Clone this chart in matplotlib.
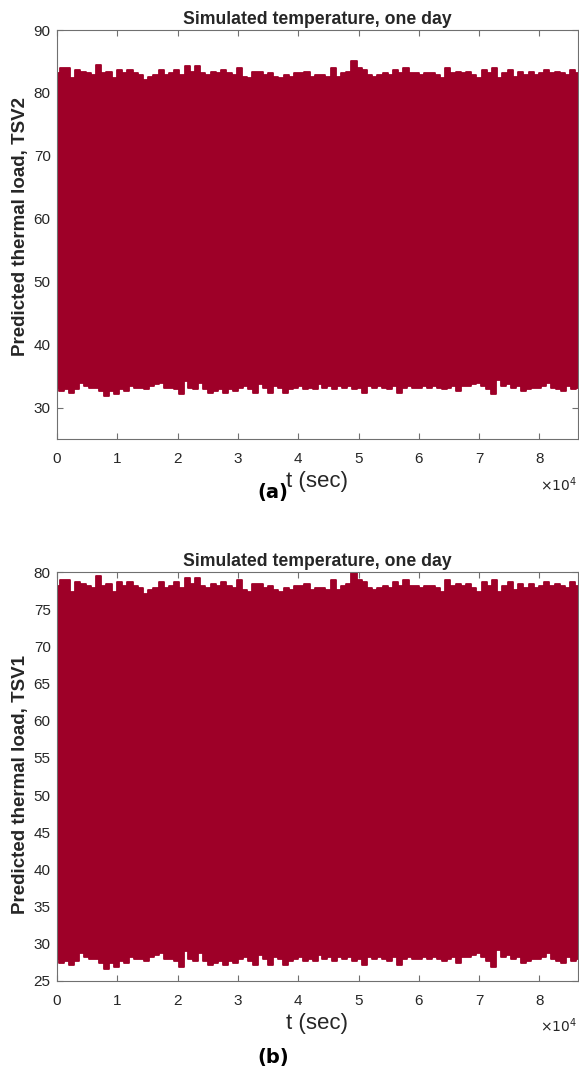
import numpy as np
import matplotlib
matplotlib.use("Agg")
import matplotlib.pyplot as plt

# ---- data: envelope of the dense oscillating signal ----
T_END = 86400  # one day in seconds

tsv2_upper = [83.1, 83.9, 83.9, 82.3, 83.7, 83.4, 83.1, 82.9, 84.4, 83.1, 83.4, 82.3, 83.7,
              83.1, 83.7, 83.1, 82.9, 82.1, 82.6, 82.9, 83.7, 82.9, 83.1, 83.7, 82.9, 84.2,
              83.4, 84.2, 83.1, 82.9, 83.4, 83.1, 83.7, 83.1, 82.9, 83.9, 82.6, 82.3, 83.4,
              83.4, 82.9, 83.1, 82.6, 82.3, 82.9, 82.6, 83.1, 83.1, 83.4, 82.6, 82.9,
              82.9, 82.6, 83.9, 82.6, 83.1, 83.4, 85.0, 83.9, 83.7, 82.9, 82.6, 82.9, 83.1,
              82.9, 83.7, 83.1, 83.9, 83.1, 83.1, 82.9, 83.1, 83.1, 82.9, 82.3, 83.9, 83.1,
              83.4, 83.1, 83.4, 82.9, 82.3, 83.7, 83.1, 83.9, 82.3, 83.1, 83.7, 82.6, 83.4,
              82.9, 83.4, 82.9, 83.1, 83.7, 83.1, 83.4, 83.1, 82.9, 83.7, 83.1]

tsv2_lower = [33.1, 32.6, 32.9, 32.3, 32.9, 33.9, 33.4, 33.1, 33.1, 32.6, 31.8, 32.6, 32.1,
              32.9, 32.6, 33.4, 33.1, 33.1, 32.9, 33.4, 33.7, 33.9, 33.1, 33.1, 32.9, 32.1,
              34.2, 33.1, 32.9, 33.9, 32.9, 32.3, 32.6, 32.9, 32.3, 32.9, 32.6, 33.1, 33.4,
              32.9, 32.3, 33.7, 33.1, 32.3, 33.4, 33.1, 32.3, 32.9, 33.1, 33.4, 32.9, 33.1,
              32.9,
              33.7, 33.1, 33.4, 32.9, 33.4, 33.1, 33.4, 32.9, 33.1, 32.3, 33.4, 33.1, 33.4,
              33.1, 32.9, 33.4, 32.3, 33.1, 33.4, 33.1, 33.1, 33.4, 33.1, 33.4, 33.1, 32.9,
              33.1, 33.4, 32.6, 33.4, 33.4, 33.7, 33.9, 33.4, 32.9, 32.1, 34.4, 33.4, 33.7,
              33.1, 33.4, 32.6, 32.9, 33.1, 33.1, 33.4, 33.9, 33.1, 32.9, 32.6, 33.4, 32.9,
              33.1]

tsv1_upper = [78.1, 78.9, 78.9, 77.3, 78.7, 78.4, 78.1, 77.9, 79.4, 78.1, 78.4, 77.3, 78.7,
              78.1, 78.7, 78.1, 77.9, 77.1, 77.6, 77.9, 78.7, 77.9, 78.1, 78.7, 77.9, 79.2,
              78.4, 79.2, 78.1, 77.9, 78.4, 78.1, 78.7, 78.1, 77.9, 78.9, 77.6, 77.3, 78.4,
              78.4, 77.9, 78.1, 77.6, 77.3, 77.9, 77.6, 78.1, 78.1, 78.4, 77.6, 77.9,
              77.9, 77.6, 78.9, 77.6, 78.1, 78.4, 80.0, 78.9, 78.7, 77.9, 77.6, 77.9, 78.1,
              77.9, 78.7, 78.1, 78.9, 78.1, 78.1, 77.9, 78.1, 78.1, 77.9, 77.3, 78.9, 78.1,
              78.4, 78.1, 78.4, 77.9, 77.3, 78.7, 78.1, 78.9, 77.3, 78.1, 78.7, 77.6, 78.4,
              77.9, 78.4, 77.9, 78.1, 78.7, 78.1, 78.4, 78.1, 77.9, 78.7, 78.1]

tsv1_lower = [27.9, 27.4, 27.7, 27.1, 27.7, 28.7, 28.2, 27.9, 27.9, 27.4, 26.6, 27.4, 26.9,
              27.7, 27.4, 28.2, 27.9, 27.9, 27.7, 28.2, 28.5, 28.7, 27.9, 27.9, 27.7, 26.9,
              29.0, 27.9, 27.7, 28.7, 27.7, 27.1, 27.4, 27.7, 27.1, 27.7, 27.4, 27.9, 28.2,
              27.7, 27.1, 28.5, 27.9, 27.1, 28.2, 27.9, 27.1, 27.7, 27.9, 28.2, 27.7, 27.9,
              27.7,
              28.5, 27.9, 28.2, 27.7, 28.2, 27.9, 28.2, 27.7, 27.9, 27.1, 28.2, 27.9, 28.2,
              27.9, 27.7, 28.2, 27.1, 27.9, 28.2, 27.9, 27.9, 28.2, 27.9, 28.2, 27.9, 27.7,
              27.9, 28.2, 27.4, 28.2, 28.2, 28.5, 28.7, 28.2, 27.7, 26.9, 29.2, 28.2, 28.5,
              27.9, 28.2, 27.4, 27.7, 27.9, 27.9, 28.2, 28.7, 27.9, 27.7, 27.4, 28.2, 27.7,
              27.9]

x_ticks = [0, 10000, 20000, 30000, 40000, 50000, 60000, 70000, 80000]
x_ticklabels = ["0", "1", "2", "3", "4", "5", "6", "7", "8"]
yticks_a = [30, 40, 50, 60, 70, 80, 90]
yticks_b = [25, 30, 35, 40, 45, 50, 55, 60, 65, 70, 75, 80]

panels = [
    dict(upper=tsv2_upper, lower=tsv2_lower, ylim=(25, 90), yticks=yticks_a,
         ylabel="Predicted thermal load, TSV2", tag="(a)"),
    dict(upper=tsv1_upper, lower=tsv1_lower, ylim=(25, 80), yticks=yticks_b,
         ylabel="Predicted thermal load, TSV1", tag="(b)"),
]

COLOR = "#9E0028"
TXT = "#262626"
AXC = "#707070"

plt.rcParams["font.family"] = ["Liberation Sans", "DejaVu Sans"]

W, H = 579, 1074
fig = plt.figure(figsize=(W / 100, H / 100), dpi=100)

ax_pix = [(57, 30, 578, 439), (57, 572, 578, 981)]
tag_y = [492, 1058]
offset_y = [485, 1026]
ylab_y = [0.52, 0.48]

for p, (x0, y0, x1, y1), ty, oy, ly in zip(panels, ax_pix, tag_y, offset_y, ylab_y):
    ax = fig.add_axes([x0 / W, 1 - y1 / H, (x1 - x0) / W, (y1 - y0) / H])
    tu = np.linspace(0, T_END, len(p["upper"]))
    tl = np.linspace(0, T_END, len(p["lower"]))
    mid = 0.5 * (p["ylim"][0] + p["ylim"][1])
    ax.fill_between(tu, mid, p["upper"], step="mid", color=COLOR, lw=0, zorder=2)
    ax.fill_between(tl, p["lower"], mid, step="mid", color=COLOR, lw=0, zorder=2)
    ax.step(tu, p["upper"], where="mid", color=COLOR, lw=1.3,
            solid_joinstyle="round", solid_capstyle="round", zorder=2)
    ax.step(tl, p["lower"], where="mid", color=COLOR, lw=1.3,
            solid_joinstyle="round", solid_capstyle="round", zorder=2)
    ax.set_xlim(0, T_END)
    ax.set_ylim(*p["ylim"])
    ax.set_xticks(x_ticks)
    ax.set_xticklabels(x_ticklabels)
    ax.set_yticks(p["yticks"])
    ax.tick_params(direction="in", top=True, right=True, length=4, width=0.8,
                   color=AXC, labelcolor=TXT, labelsize=11)
    ax.tick_params(axis="x", pad=9.5)
    ax.tick_params(axis="y", pad=4.5)
    for s in ax.spines.values():
        s.set_color(AXC)
        s.set_linewidth(0.8)
        s.set_zorder(3)
    ax.set_title("Simulated temperature, one day", fontsize=12.7, fontweight="bold",
                 color=TXT, pad=4)
    ax.set_ylabel(p["ylabel"], fontsize=13.5, fontweight="bold", color=TXT)
    ax.yaxis.set_label_coords(-0.054, ly)
    ax.set_xlabel("t (sec)", fontsize=16, color=TXT)
    ax.xaxis.label.set_va("center")
    ax.xaxis.set_label_coords(0.5, -43 / 409)
    fig.text(577 / W, 1 - oy / H, r"$\times10^{4}$", fontsize=10, color=TXT,
             ha="right", va="center")
    fig.text(273 / W, 1 - ty / H, p["tag"], fontsize=14, fontweight="bold",
             family="DejaVu Sans", color="black", ha="center", va="center")

fig.savefig("out.png", dpi=100)
